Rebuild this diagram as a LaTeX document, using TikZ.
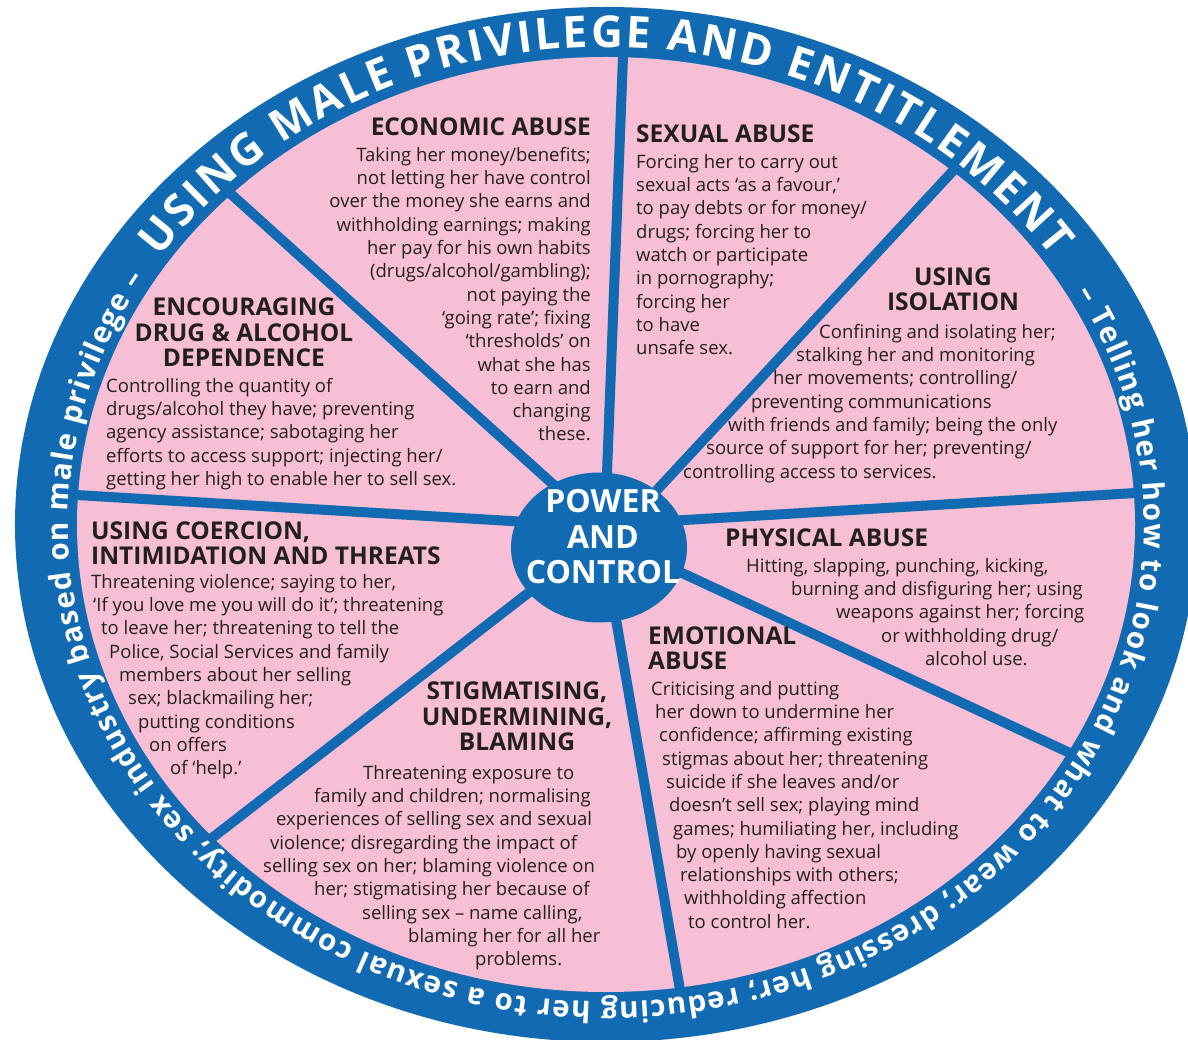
\documentclass[tikz,border=0pt]{standalone}
\usepackage{fontspec}
\setmainfont{Open Sans}
\usetikzlibrary{decorations.text}
\definecolor{wheelblue}{RGB}{18,107,178}
\definecolor{wheelpink}{RGB}{247,191,214}
\definecolor{ink}{RGB}{35,31,32}
\newcommand\bodysize{\fontsize{18.5}{23.3}\selectfont}
\newcommand\headsize{\fontsize{24.5}{25.3}\selectfont\bfseries}
\newcommand\ringcaps{\fontsize{44}{44}\selectfont\bfseries}
\newcommand\ringsmall{\fontsize{29.5}{30}\selectfont\bfseries}

\begin{document}
\begin{tikzpicture}[x=1pt,y=1pt,
  body/.style={font=\bodysize,text=ink,inner sep=0pt},
  head/.style={font=\headsize,text=ink,inner sep=0pt},
  spoke/.style={wheelblue,line width=10pt}]
\useasboundingbox (-606,-514.5) rectangle (582,524.5);
% rim and face
\fill[wheelblue] (0,0) ellipse[x radius=591,y radius=517.5];
\fill[wheelpink] (0,0) ellipse[x radius=529,y radius=467.5];
% spokes
\draw[spoke] (17.3,475.5)--(0,25.5) (351.4,358.4)--(32,14)
   (538,32)--(54,3) (471.3,-231.9)--(51.3,-37)
   (75.4,-473.4)--(6.7,-75.9) (-400.3,-318.4)--(-54.2,-50.2)
   (-538,30)--(-70,2) (-380,334.9)--(-41.4,29.8);
% hub
\fill[wheelblue] (-7,-23) ellipse[x radius=88,y radius=75];
\node[font=\fontsize{32}{35.5}\selectfont\bfseries,text=white,align=center] (hub)
   at (-3,-12.5) {POWER\\AND\\CONTROL};
% rim text
\path[decorate,decoration={text along path,text color=white,text align=fit to path,
   text={|\ringcaps|USING MALE PRIVILEGE AND ENTITLEMENT}}]
   (-446.0,266.9) arc[start angle=146,end angle=34,x radius=538,y radius=477.5];
\path[decorate,decoration={text along path,text color=white,text align=fit to path,
   text={|\ringsmall|– Telling her how to look and what to wear; dressing her; reducing her to a sexual commodity; sex industry based on male privilege –}}]
   (470.5,231.5) arc[start angle=29,end angle=-211,x radius=538,y radius=477.5];
% segments
\node[head,anchor=east] (econhead) at (-15,397.5) {ECONOMIC ABUSE};
\node[body,align=right,anchor=north east] (econ) at (-15,377.5)
   {Taking her money/benefits;\\not letting her have control\\over the money she earns and\\withholding earnings; making\\her pay for his own habits\\(drugs/alcohol/gambling);\\not paying the\\‘going rate’; fixing\\‘thresholds’ on\\what she has\\to earn and\\changing\\these.};
\node[head,anchor=west] (sexhead) at (30,390.5) {SEXUAL ABUSE};
\node[body,align=left,anchor=north west] (sex) at (30,370.5)
   {Forcing her to carry out\\sexual acts ‘as a favour,’\\to pay debts or for money/\\drugs; forcing her to\\watch or participate\\in pornography;\\forcing her\\to have\\unsafe sex.};
\node[head,align=center] (isohead) at (347,235) {USING\\ISOLATION};
\node[body,align=left,anchor=north west] (iso) at (77,200.5)
   {\hspace*{136pt}Confining and isolating her;\\\hspace*{113pt}stalking her and monitoring\\\hspace*{90pt}her movements; controlling/\\\hspace*{68pt}preventing communications\\\hspace*{45pt}with friends and family; being the only\\\hspace*{23pt}source of support for her; preventing/\\controlling access to services.};
\node[head,align=center] (drughead) at (-362,192) {ENCOURAGING\\DRUG \& ALCOHOL\\DEPENDENCE};
\node[body,align=left,anchor=north west] (drug) at (-500,146.5)
   {Controlling the quantity of\\drugs/alcohol they have; preventing\\agency assistance; sabotaging her\\efforts to access support; injecting her/\\getting her high to enable her to sell sex.};
\node[head,align=left,anchor=west] (threathead) at (-515,-18.5) {USING COERCION,\\INTIMIDATION AND THREATS};
\node[body,align=left,anchor=north west] (threat) at (-515,-49.5)
   {Threatening violence; saying to her,\\\hspace*{2pt}‘If you love me you will do it’; threatening\\\hspace*{10pt}to leave her; threatening to tell the\\\hspace*{18pt}Police, Social Services and family\\\hspace*{28pt}members about her selling\\\hspace*{37pt}sex; blackmailing her;\\\hspace*{47pt}putting conditions\\\hspace*{58pt}on offers\\\hspace*{79pt}of ‘help.’};
\node[head,align=center] (stigmahead) at (-89,-192) {STIGMATISING,\\UNDERMINING,\\BLAMING};
\node[body,align=left,anchor=north west] (stigma) at (-343,-240.5)
   {\hspace*{100pt}Threatening exposure to\\\hspace*{51pt}family and children; normalising\\\hspace*{13pt}experiences of selling sex and sexual\\\hspace*{7pt}violence; disregarding the impact of\\selling sex on her; blaming violence on\\\hspace*{51pt}her; stigmatising her because of\\\hspace*{99pt}selling sex – name calling,\\\hspace*{145pt}blaming her for all her\\\hspace*{212pt}problems.};
\node[head,anchor=west] (physhead) at (119,-13.5) {PHYSICAL ABUSE};
\node[body,align=left,anchor=north west] (phys) at (140,-33.5)
   {Hitting, slapping, punching, kicking,\\\hspace*{45pt}burning and disfiguring her; using\\\hspace*{90pt}weapons against her; forcing\\\hspace*{135pt}or withholding drug/\\\hspace*{179pt}alcohol use.};
\node[head,align=left,anchor=west] (emohead) at (42,-123.5) {EMOTIONAL\\ABUSE};
\node[body,align=left,anchor=north west] (emo) at (45,-156.5)
   {Criticising and putting\\\hspace*{4pt}her down to undermine her\\\hspace*{8pt}confidence; affirming existing\\\hspace*{11pt}stigmas about her; threatening\\\hspace*{15pt}suicide if she leaves and/or\\\hspace*{18pt}doesn’t sell sex; playing mind\\\hspace*{22pt}games; humiliating her, including\\\hspace*{25pt}by openly having sexual\\\hspace*{29pt}relationships with others;\\\hspace*{33pt}withholding affection\\\hspace*{37pt}to control her.};
\end{tikzpicture}
\end{document}
